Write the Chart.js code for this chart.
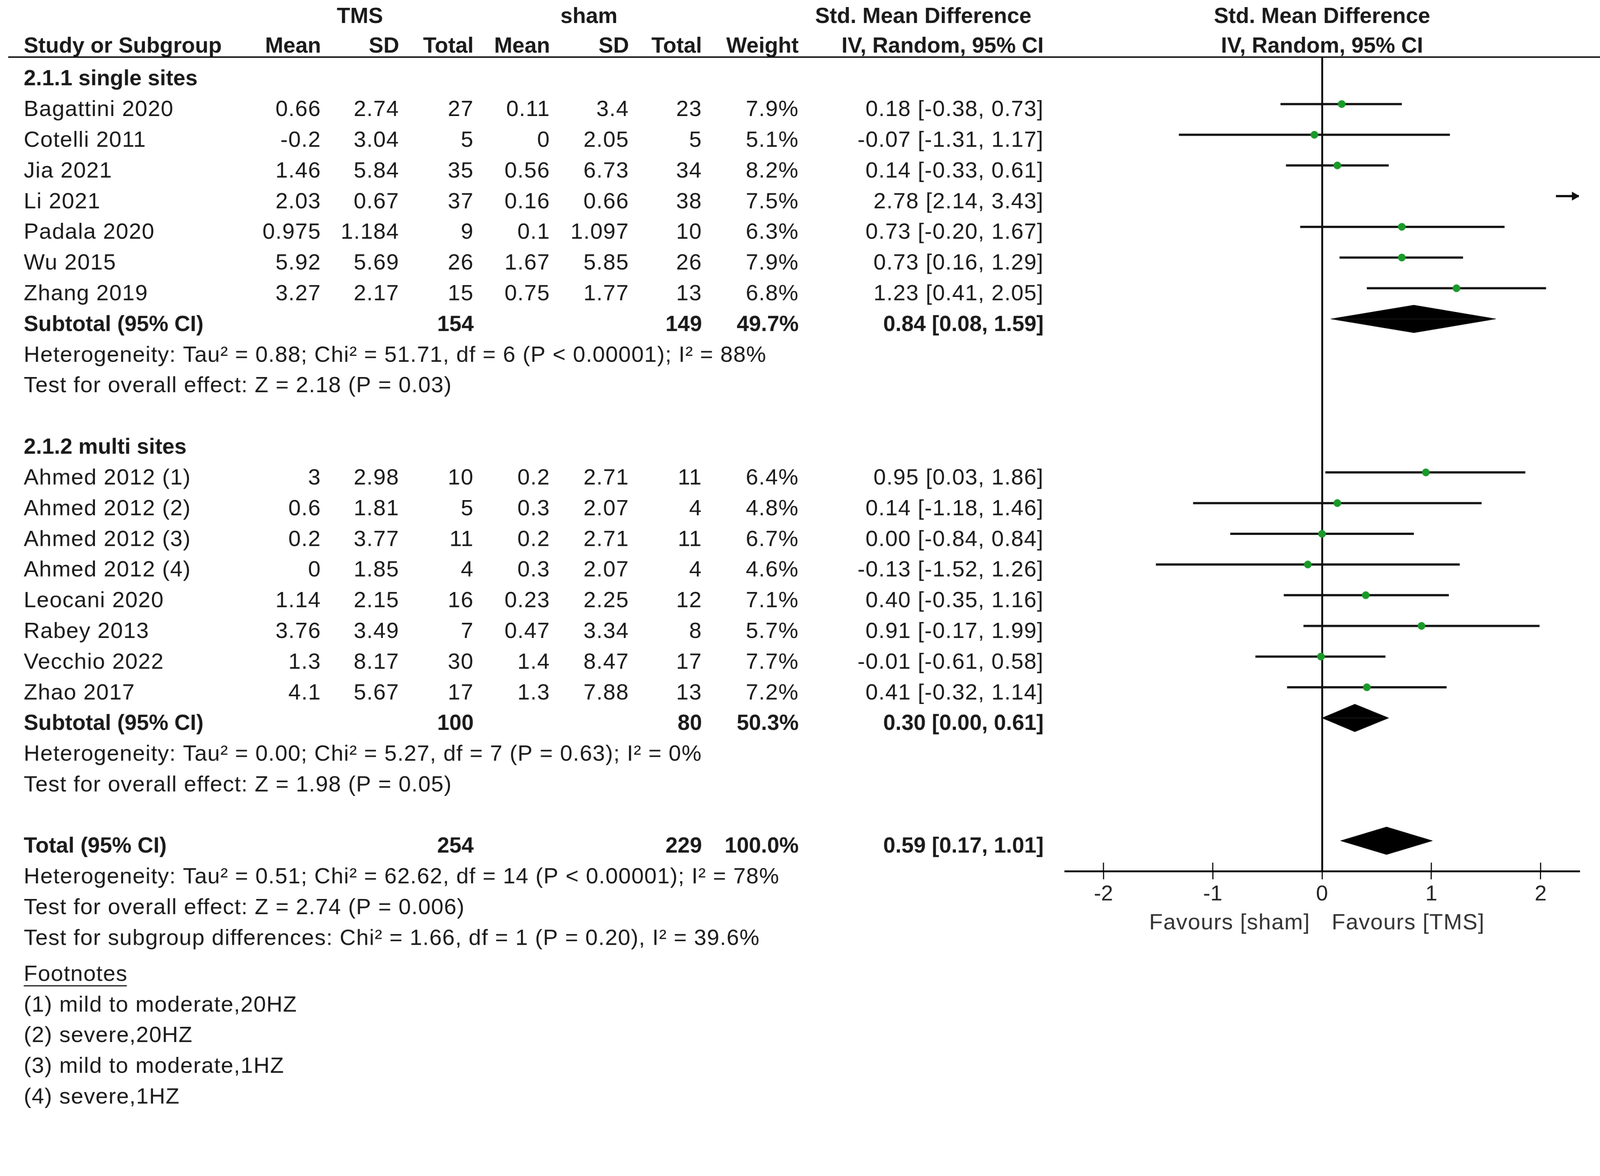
<!DOCTYPE html>
<html>
<head>
<meta charset="utf-8">
<script src="https://cdn.jsdelivr.net/npm/chart.js@4/dist/chart.umd.min.js"></script>
<style>
  html, body { margin: 0; padding: 0; background: #fff; overflow: hidden; }
  #wrap { width: 4317px; height: 3010px; position: absolute; left: 0; top: 0; transform-origin: 0 0; }
</style>
</head>
<body>
<div id="wrap"><canvas id="forestCanvas"></canvas></div>
<script>
// ---- data ----
var studyNames = ['Bagattini 2020', 'Cotelli 2011', 'Jia 2021', 'Li 2021', 'Padala 2020', 'Wu 2015', 'Zhang 2019',
  'Ahmed 2012 (1)', 'Ahmed 2012 (2)', 'Ahmed 2012 (3)', 'Ahmed 2012 (4)', 'Leocani 2020', 'Rabey 2013', 'Vecchio 2022', 'Zhao 2017'];
var studyRows = [1, 2, 3, 4, 5, 6, 7, 13, 14, 15, 16, 17, 18, 19, 20];
var tmsMean = [0.66, -0.2, 1.46, 2.03, 0.975, 5.92, 3.27, 3, 0.6, 0.2, 0, 1.14, 3.76, 1.3, 4.1];
var tmsSD = [2.74, 3.04, 5.84, 0.67, 1.184, 5.69, 2.17, 2.98, 1.81, 3.77, 1.85, 2.15, 3.49, 8.17, 5.67];
var tmsTotal = [27, 5, 35, 37, 9, 26, 15, 10, 5, 11, 4, 16, 7, 30, 17];
var shamMean = [0.11, 0, 0.56, 0.16, 0.1, 1.67, 0.75, 0.2, 0.3, 0.2, 0.3, 0.23, 0.47, 1.4, 1.3];
var shamSD = [3.4, 2.05, 6.73, 0.66, 1.097, 5.85, 1.77, 2.71, 2.07, 2.71, 2.07, 2.25, 3.34, 8.47, 7.88];
var shamTotal = [23, 5, 34, 38, 10, 26, 13, 11, 4, 11, 4, 12, 8, 17, 13];
var weights = [7.9, 5.1, 8.2, 7.5, 6.3, 7.9, 6.8, 6.4, 4.8, 6.7, 4.6, 7.1, 5.7, 7.7, 7.2];
var smd = [0.18, -0.07, 0.14, 2.78, 0.73, 0.73, 1.23, 0.95, 0.14, 0.00, -0.13, 0.40, 0.91, -0.01, 0.41];
var ciLow = [-0.38, -1.31, -0.33, 2.14, -0.20, 0.16, 0.41, 0.03, -1.18, -0.84, -1.52, -0.35, -0.17, -0.61, -0.32];
var ciHigh = [0.73, 1.17, 0.61, 3.43, 1.67, 1.29, 2.05, 1.86, 1.46, 0.84, 1.26, 1.16, 1.99, 0.58, 1.14];

var groupTitles = ['2.1.1 single sites', '2.1.2 multi sites'];
var groupRows = [0, 12];

var pooledLabels = ['Subtotal (95% CI)', 'Subtotal (95% CI)', 'Total (95% CI)'];
var pooledRows = [8, 21, 25];
var pooledTms = [154, 100, 254];
var pooledSham = [149, 80, 229];
var pooledWeight = [49.7, 50.3, 100.0];
var pooledSmd = [0.84, 0.30, 0.59];
var pooledLow = [0.08, 0.00, 0.17];
var pooledHigh = [1.59, 0.61, 1.01];

var statLines = [
  'Heterogeneity: Tau\u00b2 = 0.88; Chi\u00b2 = 51.71, df = 6 (P < 0.00001); I\u00b2 = 88%',
  'Test for overall effect: Z = 2.18 (P = 0.03)',
  'Heterogeneity: Tau\u00b2 = 0.00; Chi\u00b2 = 5.27, df = 7 (P = 0.63); I\u00b2 = 0%',
  'Test for overall effect: Z = 1.98 (P = 0.05)',
  'Heterogeneity: Tau\u00b2 = 0.51; Chi\u00b2 = 62.62, df = 14 (P < 0.00001); I\u00b2 = 78%',
  'Test for overall effect: Z = 2.74 (P = 0.006)',
  'Test for subgroup differences: Chi\u00b2 = 1.66, df = 1 (P = 0.20), I\u00b2 = 39.6%'
];
var statRows = [9, 10, 22, 23, 26, 27, 28];

var footnotes = ['(1) mild to moderate,20HZ', '(2) severe,20HZ', '(3) mild to moderate,1HZ', '(4) severe,1HZ'];
var footnoteRows = [30.17, 31.17, 32.17, 33.17];

var xTicks = [-2, -1, 0, 1, 2];
var favourLabels = ['Favours [sham]', 'Favours [TMS]'];

// ---- layout / style (design size 4317 x 3010, scaled to the viewport) ----
var W = 4317, H = 3010;
var scaleK = Math.min(window.innerWidth / W, window.innerHeight / H) || 1;
document.getElementById('wrap').style.transform = 'scale(' + scaleK + ')';

var X_MIN = -2.35, X_MAX = 2.35;
var Y_MIN = -0.53, Y_MAX = 25.99;
var FONT = '"Liberation Sans", Arial, sans-serif';
var TEXT_SHIFT = 16;
var DIAMOND_H = 0.45;
var GREEN = '#1a9a2a';

var datasets = [];

// confidence interval lines (clipped at the axis ends)
for (var i = 0; i < studyNames.length; i++) {
  datasets.push({
    type: 'line',
    data: [
      {x: Math.max(ciLow[i], X_MIN), y: studyRows[i]},
      {x: Math.min(ciHigh[i], X_MAX), y: studyRows[i]}
    ],
    borderColor: '#111',
    borderWidth: 6,
    pointRadius: 0,
    fill: false,
    order: 2
  });
}

// arrow heads where the interval runs off the axis
var arrowPts = [];
for (var i = 0; i < studyNames.length; i++) {
  if (ciHigh[i] > X_MAX) arrowPts.push({x: X_MAX - 0.04, y: studyRows[i]});
}
datasets.push({
  type: 'scatter',
  data: arrowPts,
  pointStyle: 'triangle',
  rotation: 90,
  pointRadius: 13,
  backgroundColor: '#111',
  borderColor: '#111',
  borderWidth: 1,
  order: 1
});

// study point estimates
datasets.push({
  type: 'scatter',
  data: studyRows.map(function (r, i) { return {x: smd[i], y: r}; }),
  pointStyle: 'circle',
  pointRadius: 10,
  backgroundColor: GREEN,
  borderColor: GREEN,
  borderWidth: 1,
  order: 0
});

// pooled diamonds: upper and lower halves, each filled to the row line
for (var j = 0; j < pooledRows.length; j++) {
  var r = pooledRows[j];
  [-DIAMOND_H, DIAMOND_H].forEach(function (h) {
    datasets.push({
      type: 'line',
      data: [
        {x: pooledLow[j], y: r},
        {x: pooledSmd[j], y: r + h},
        {x: pooledHigh[j], y: r}
      ],
      borderColor: '#000',
      borderWidth: 1,
      backgroundColor: '#000',
      pointRadius: 0,
      fill: {value: r},
      order: 1
    });
  });
}

function fmt(v) { return String(v); }
function ciText(e, lo, hi) { return e.toFixed(2) + ' [' + lo.toFixed(2) + ', ' + hi.toFixed(2) + ']'; }

var tableText = {
  id: 'tableText',
  afterDraw: function (chart) {
    var ctx = chart.ctx;
    var ys = chart.scales.y, xs = chart.scales.x;
    var area = chart.chartArea;
    var x0 = xs.getPixelForValue(0);
    function rowY(r) { return ys.getPixelForValue(r) + TEXT_SHIFT; }
    function put(str, px, py, align, bold, color) {
      ctx.font = (bold ? 'bold 59px ' : '60px ') + FONT;
      if ('letterSpacing' in ctx) ctx.letterSpacing = bold ? '0px' : '1.5px';
      ctx.textAlign = align;
      ctx.textBaseline = 'middle';
      ctx.fillStyle = color || '#1a1a1a';
      ctx.fillText(str, px, py);
    }
    var cols = {name: 64, m1: 866, sd1: 1077, n1: 1278, m2: 1484, sd2: 1697, n2: 1894, w: 2155, ci: 2816};

    ctx.save();
    // header
    put('TMS', 971, 46, 'center', true);
    put('sham', 1589, 46, 'center', true);
    put('Std. Mean Difference', 2491, 46, 'center', true);
    put('Std. Mean Difference', x0, 46, 'center', true);
    put('Study or Subgroup', cols.name, 126, 'left', true);
    put('Mean', cols.m1, 126, 'right', true);
    put('SD', cols.sd1, 126, 'right', true);
    put('Total', cols.n1, 126, 'right', true);
    put('Mean', cols.m2, 126, 'right', true);
    put('SD', cols.sd2, 126, 'right', true);
    put('Total', cols.n2, 126, 'right', true);
    put('Weight', cols.w, 126, 'right', true);
    put('IV, Random, 95% CI', cols.ci, 126, 'right', true);
    put('IV, Random, 95% CI', x0, 126, 'center', true);

    ctx.strokeStyle = '#111';
    ctx.lineWidth = 4;
    ctx.beginPath();
    ctx.moveTo(22, area.top);
    ctx.lineTo(chart.width, area.top);
    ctx.stroke();

    groupTitles.forEach(function (t, g) { put(t, cols.name, rowY(groupRows[g]), 'left', true); });

    studyNames.forEach(function (n, i) {
      var y = rowY(studyRows[i]);
      put(n, cols.name, y, 'left');
      put(fmt(tmsMean[i]), cols.m1, y, 'right');
      put(fmt(tmsSD[i]), cols.sd1, y, 'right');
      put(fmt(tmsTotal[i]), cols.n1, y, 'right');
      put(fmt(shamMean[i]), cols.m2, y, 'right');
      put(fmt(shamSD[i]), cols.sd2, y, 'right');
      put(fmt(shamTotal[i]), cols.n2, y, 'right');
      put(weights[i].toFixed(1) + '%', cols.w, y, 'right');
      put(ciText(smd[i], ciLow[i], ciHigh[i]), cols.ci, y, 'right');
    });

    pooledLabels.forEach(function (l, j) {
      var y = rowY(pooledRows[j]);
      put(l, cols.name, y, 'left', true);
      put(String(pooledTms[j]), cols.n1, y, 'right', true);
      put(String(pooledSham[j]), cols.n2, y, 'right', true);
      put(pooledWeight[j].toFixed(1) + '%', cols.w, y, 'right', true);
      put(ciText(pooledSmd[j], pooledLow[j], pooledHigh[j]), cols.ci, y, 'right', true);
    });

    statLines.forEach(function (s, k) { put(s, cols.name, rowY(statRows[k]), 'left'); });

    // footnotes
    var fy = rowY(footnoteRows[0] - 1);
    put('Footnotes', cols.name, fy, 'left');
    var fw = ctx.measureText('Footnotes').width;
    ctx.lineWidth = 3;
    ctx.beginPath();
    ctx.moveTo(cols.name, fy + 30);
    ctx.lineTo(cols.name + fw - 2, fy + 30);
    ctx.stroke();
    footnotes.forEach(function (f, k) { put(f, cols.name, rowY(footnoteRows[k]), 'left'); });

    // upper halves of the axis tick marks
    ctx.strokeStyle = '#000';
    ctx.lineWidth = 3;
    xTicks.forEach(function (v) {
      var px = xs.getPixelForValue(v);
      ctx.beginPath();
      ctx.moveTo(px, area.bottom - 23);
      ctx.lineTo(px, area.bottom);
      ctx.stroke();
    });

    // favours labels
    put(favourLabels[0], x0 - 32, 2490, 'right', false, '#333');
    put(favourLabels[1], x0 + 26, 2490, 'left', false, '#333');
    ctx.restore();
  }
};

new Chart(document.getElementById('forestCanvas'), {
  type: 'scatter',
  data: {datasets: datasets},
  options: {
    responsive: true,
    maintainAspectRatio: false,
    animation: false,
    layout: {padding: {left: 2874, right: 57, top: 154, bottom: 500}},
    plugins: {legend: {display: false}, tooltip: {enabled: false}},
    scales: {
      x: {
        type: 'linear',
        min: X_MIN,
        max: X_MAX,
        afterFit: function (s) { s.height = 160; },
        afterBuildTicks: function (s) { s.ticks = xTicks.map(function (v) { return {value: v}; }); },
        border: {display: true, color: '#000', width: 5},
        grid: {
          drawOnChartArea: true,
          color: function (c) { return c.tick && c.tick.value === 0 ? '#000' : 'rgba(0,0,0,0)'; },
          lineWidth: 5,
          drawTicks: true,
          tickLength: 22,
          tickColor: '#000',
          tickWidth: 3
        },
        ticks: {
          font: {family: FONT, size: 58},
          color: '#222',
          padding: 6,
          maxRotation: 0,
          callback: function (v) { return String(v); }
        }
      },
      y: {
        type: 'linear',
        reverse: true,
        min: Y_MIN,
        max: Y_MAX,
        display: false
      }
    }
  },
  plugins: [tableText]
});
</script>
</body>
</html>
